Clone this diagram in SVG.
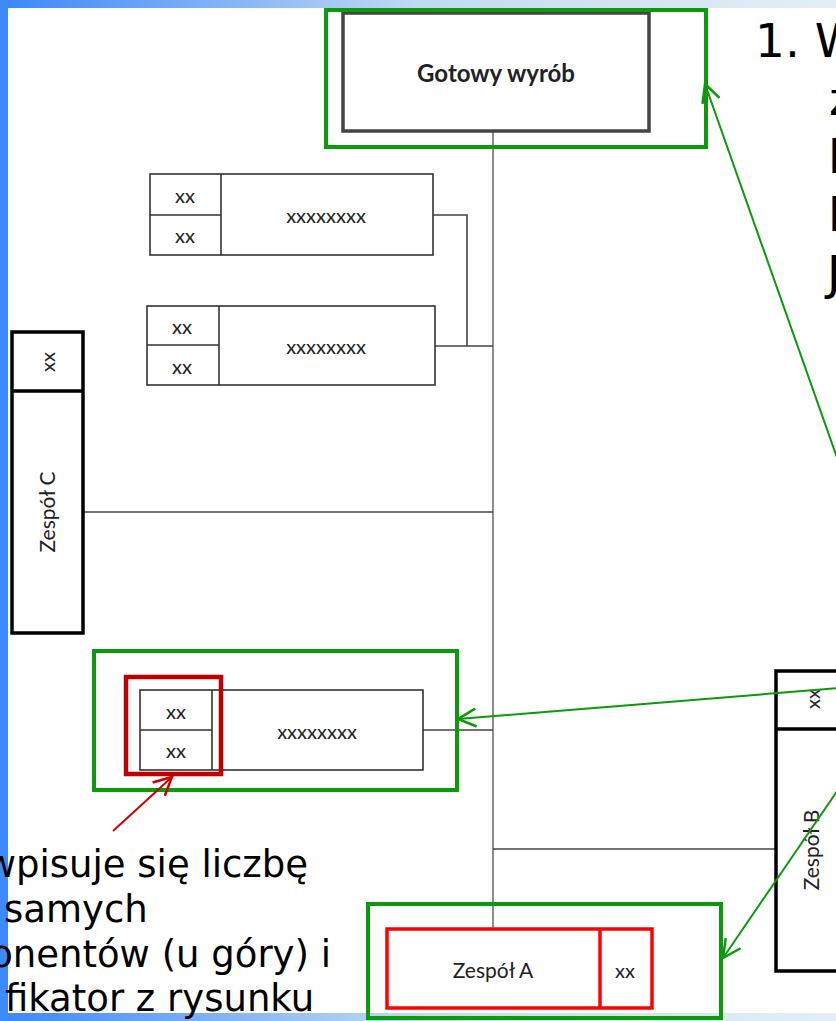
<svg xmlns="http://www.w3.org/2000/svg" width="836" height="1021" viewBox="0 0 836 1021">
<defs>
<linearGradient id="topg" x1="0" y1="0" x2="1" y2="0">
<stop offset="0" stop-color="#3b87f7"/>
<stop offset="0.5" stop-color="#c2daf2"/>
<stop offset="1" stop-color="#e3eff4"/>
</linearGradient>
<marker id="ag" markerUnits="userSpaceOnUse" markerWidth="24" markerHeight="24" viewBox="0 0 24 24" refX="21" refY="12" orient="auto">
<path d="M3,3 L21,12 L3,21" fill="none" stroke="#0a9a0a" stroke-width="2.5"/>
</marker>
<marker id="ar" markerUnits="userSpaceOnUse" markerWidth="24" markerHeight="24" viewBox="0 0 24 24" refX="21" refY="12" orient="auto">
<path d="M3,3 L21,12 L3,21" fill="none" stroke="#cc0000" stroke-width="2.5"/>
</marker>
</defs>
<style>
.comp{fill:#fff;stroke:#333;stroke-width:1.6}
.div{stroke:#333;stroke-width:1.6;fill:none}
.zesp{fill:#fff;stroke:#000;stroke-width:3.5}
.conn{stroke:#444;stroke-width:1.6;fill:none}
.main{stroke:#808080;stroke-width:1.8;fill:none}
.green{fill:none;stroke:#0a9a0a;stroke-width:4}
.garrow{stroke:#0a9a0a;stroke-width:2;fill:none}
.lbl{font-family:Lato,"Open Sans",sans-serif;fill:#222;text-anchor:middle;dominant-baseline:central}
.xs{font-size:20px}
.big{font-family:"DejaVu Sans",Verdana,sans-serif;fill:#000}
</style>
<rect width="836" height="1021" fill="#fff"/>
<rect x="0" y="0" width="836" height="8" fill="url(#topg)"/>
<rect x="0" y="1013" width="836" height="8" fill="url(#topg)"/>
<rect x="0" y="0" width="8" height="1021" fill="#3d8bfb"/>

<g id="connectors">
<line class="main" x1="493" y1="131" x2="493" y2="929"/>
<polyline class="conn" points="433,215 467,215 467,346"/>
<line class="conn" x1="435" y1="346" x2="493" y2="346"/>
<line class="conn" x1="83" y1="512" x2="493" y2="512"/>
<line class="conn" x1="423" y1="730" x2="493" y2="730"/>
<line class="conn" x1="493" y1="849" x2="775" y2="849"/>
</g>

<g id="gotowy">
<rect x="343" y="13" width="306" height="118" fill="#fff" stroke="#444" stroke-width="3.5"/>
<text x="496" y="72" class="lbl" font-size="24" font-weight="bold">Gotowy wyrób</text>
<rect class="green" x="326" y="10" width="380" height="137"/>
</g>

<g id="comp1">
<rect class="comp" x="150" y="174" width="283" height="81"/>
<line class="div" x1="221" y1="174" x2="221" y2="255"/>
<line class="div" x1="150" y1="215" x2="221" y2="215"/>
<text class="lbl xs" x="185" y="195">xx</text>
<text class="lbl xs" x="185" y="235">xx</text>
<text class="lbl xs" x="326" y="215">xxxxxxxx</text>
</g>

<g id="comp2">
<rect class="comp" x="147" y="306" width="288" height="79"/>
<line class="div" x1="219" y1="306" x2="219" y2="385"/>
<line class="div" x1="147" y1="345" x2="219" y2="345"/>
<text class="lbl xs" x="182" y="326">xx</text>
<text class="lbl xs" x="182" y="366">xx</text>
<text class="lbl xs" x="326" y="346">xxxxxxxx</text>
</g>

<g id="zespolC">
<rect class="zesp" x="12" y="332" width="71" height="301"/>
<line stroke="#000" stroke-width="3.5" x1="12" y1="391" x2="83" y2="391"/>
<text class="lbl xs" transform="translate(47,362) rotate(-90)">xx</text>
<text class="lbl" font-size="21" transform="translate(46,512) rotate(-90)">Zespół C</text>
</g>

<g id="comp3">
<rect class="comp" x="140" y="690" width="283" height="80"/>
<line class="div" x1="212" y1="690" x2="212" y2="770"/>
<line class="div" x1="140" y1="730" x2="212" y2="730"/>
<text class="lbl xs" x="176" y="711">xx</text>
<text class="lbl xs" x="176" y="750">xx</text>
<text class="lbl xs" x="317" y="731">xxxxxxxx</text>
<rect class="green" x="94" y="651" width="363" height="139"/>
<rect x="126" y="677" width="95" height="97" fill="none" stroke="#c00000" stroke-width="4.5"/>
</g>

<g id="zespolB">
<rect class="zesp" x="776" y="671" width="90" height="300"/>
<line stroke="#000" stroke-width="3.5" x1="776" y1="729" x2="836" y2="729"/>
<text class="lbl xs" transform="translate(812,699) rotate(-90)">xx</text>
<text class="lbl" font-size="21" transform="translate(810,850) rotate(-90)">Zespół B</text>
</g>

<g id="zespolA">
<rect x="387" y="929" width="265" height="79" fill="#fff" stroke="#ff0000" stroke-width="3.5"/>
<line x1="600" y1="929" x2="600" y2="1008" stroke="#ff0000" stroke-width="3.5"/>
<text class="lbl" font-size="21" x="493" y="969">Zespół A</text>
<text class="lbl xs" x="625" y="970">xx</text>
<rect class="green" x="368" y="904" width="353" height="114"/>
</g>

<g id="arrows">
<line class="garrow" x1="840" y1="466" x2="705" y2="84" marker-end="url(#ag)"/>
<line class="garrow" x1="840" y1="688" x2="458" y2="719" marker-end="url(#ag)"/>
<line class="garrow" x1="840" y1="787" x2="723" y2="958" marker-end="url(#ag)"/>
<line x1="113" y1="831" x2="172" y2="777" stroke="#cc0000" stroke-width="2" marker-end="url(#ar)"/>
</g>

<g id="note-left" class="big" font-size="37">
<text x="308" y="877" text-anchor="end">wpisuje się liczbę</text>
<text x="4" y="922">samych</text>
<text x="331" y="967" text-anchor="end">onentów (u góry) i</text>
<text x="5" y="1011">fikator z rysunku</text>
</g>

<g id="note-right" class="big" font-size="47">
<text x="755" y="57">1. W</text>
<text x="829" y="115">z</text>
<text x="828" y="173">l</text>
<text x="828" y="231">l</text>
<text x="827" y="289">J</text>
</g>
</svg>
